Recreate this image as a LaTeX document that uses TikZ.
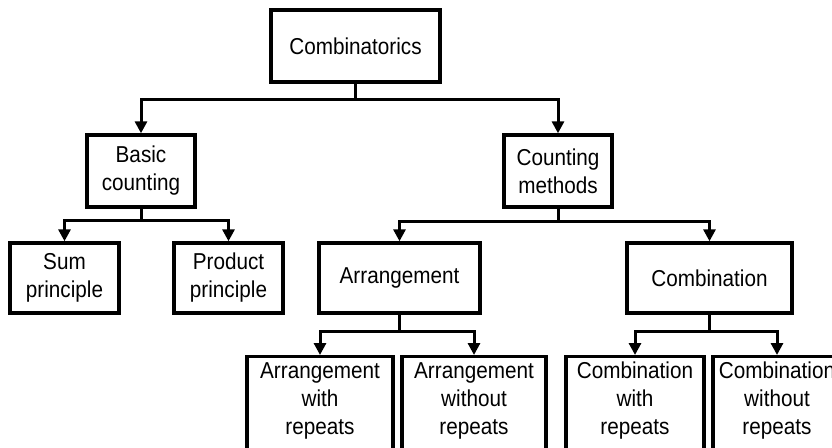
\documentclass[tikz,border=0pt]{standalone}
\usepackage{fontspec}
\setmainfont{Liberation Sans}[FakeStretch=0.9]
\usetikzlibrary{arrows.meta}
\begin{document}
\begin{tikzpicture}[x=1pt,y=-1pt,
  treefont/.style={font=\fontsize{23}{28}\selectfont},
  box/.style={draw, line width=3.4pt, rectangle, align=center, inner sep=0pt, treefont},
  leafbox/.style={box, minimum height=110pt, anchor=north},
  leaftext/.style={align=center, inner sep=0pt, treefont},
  conn/.style={line width=3pt, -{Triangle[width=12pt,length=12pt]}}
]
\useasboundingbox (0,0) rectangle (832,447);
\clip (0,0) rectangle (832,447);
\fill[white] (0,0) rectangle (832,447);

% top level
\node[box, minimum width=169pt, minimum height=72pt] (comb) at (355.5,46) {Combinatorics};

% second level
\node[box, minimum width=108pt, minimum height=72pt] (basic) at (141,171) {Basic\\counting};
\node[box, minimum width=108pt, minimum height=72pt] (count) at (558,171) {Counting\\methods};

% third level
\node[box, minimum width=109pt, minimum height=70pt] (sum)  at (64.5,278) {Sum\\principle};
\node[box, minimum width=109pt, minimum height=70pt] (prod) at (228.5,278) {Product\\principle};
\node[box, minimum width=161pt, minimum height=70pt] (arr)  at (399.5,278) {Arrangement};
\node[box, minimum width=165pt, minimum height=70pt] (cmb)  at (709.5,278) {Combination};

% leaves, running past the lower edge
\node[leafbox, minimum width=146pt] (awr) at (320,355) {};
\node[leaftext] (awr-t) at (320,401) {Arrangement\\with\\repeats};
\node[leafbox, minimum width=144pt] (awo) at (474,355) {};
\node[leaftext] (awo-t) at (474,401) {Arrangement\\without\\repeats};
\node[leafbox, minimum width=138pt] (cwr) at (635,355) {};
\node[leaftext] (cwr-t) at (635,401) {Combination\\with\\repeats};
\node[leafbox, minimum width=128pt] (cwo) at (777,355) {};
\node[leaftext] (cwo-t) at (777,401) {Combination\\without\\repeats};

% connectors
\draw[conn] (comb.south) -- ++(0,16) -| (basic.north);
\draw[conn] (comb.south) -- ++(0,16) -| (count.north);
\draw[conn] (basic.south) -- ++(0,12) -| (sum.north);
\draw[conn] (basic.south) -- ++(0,12) -| (prod.north);
\draw[conn] (count.south) -- ++(0,13) -| (arr.north);
\draw[conn] (count.south) -- ++(0,13) -| (cmb.north);
\draw[conn] (arr.south) -- ++(0,17) -| (awr.north);
\draw[conn] (arr.south) -- ++(0,17) -| (awo.north);
\draw[conn] (cmb.south) -- ++(0,17) -| (cwr.north);
\draw[conn] (cmb.south) -- ++(0,17) -| (cwo.north);
\end{tikzpicture}
\end{document}
